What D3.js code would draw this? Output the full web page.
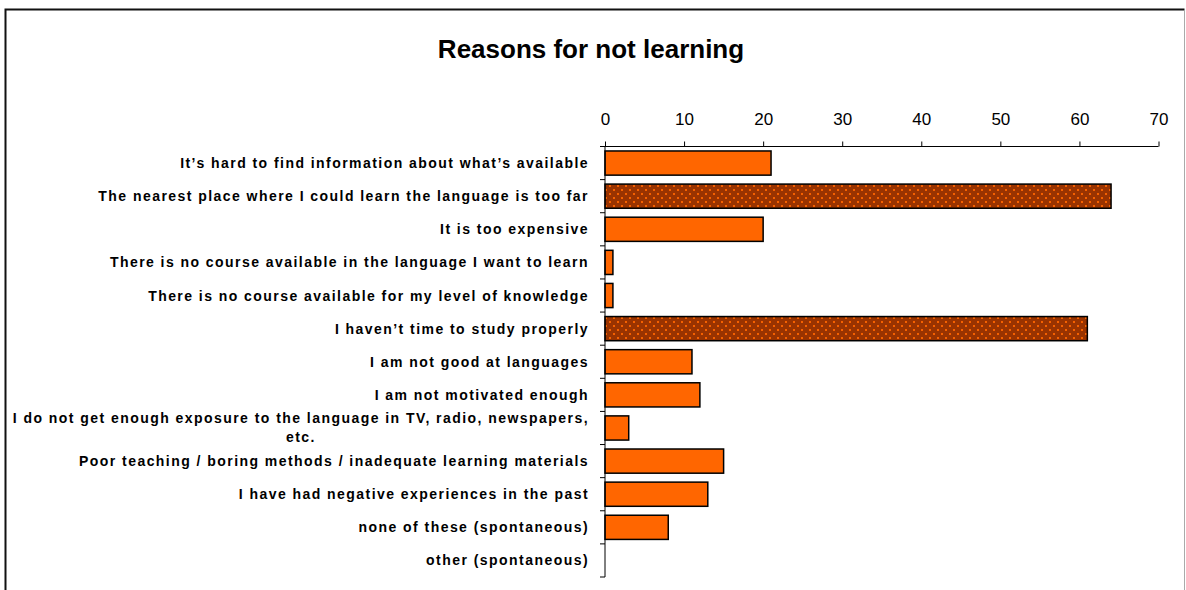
<!DOCTYPE html>
<html>
<head>
<meta charset="utf-8">
<script src="https://cdn.jsdelivr.net/npm/d3@7"></script>
<style>
  html, body { margin: 0; padding: 0; background: #fff; }
  svg { display: block; font-family: "Liberation Sans", Arial, sans-serif; }
</style>
</head>
<body>
<svg id="chart" width="1186" height="590"></svg>
<script>
// Survey answers: reasons for not learning a language (percent)
const categories = [
  "It\u2019s hard to find information about what\u2019s available",
  "The nearest place where I could learn the language is too far",
  "It is too expensive",
  "There is no course available in the language I want to learn",
  "There is no course available for my level of knowledge",
  "I haven\u2019t time to study properly",
  "I am not good at languages",
  "I am not motivated enough",
  "I do not get enough exposure to the language in TV, radio, newspapers, etc.",
  "Poor teaching / boring methods / inadequate learning materials",
  "I have had negative experiences in the past",
  "none of these (spontaneous)",
  "other (spontaneous)"
];
const values = [21, 64, 20, 1, 1, 61, 11, 12, 3, 15, 13, 8, 0];
// The two most frequent answers are drawn with a dotted fill
const highlighted = [false, true, false, false, false, true, false, false, false, false, false, false, false];
const xTicks = [0, 10, 20, 30, 40, 50, 60, 70];
const chartTitle = "Reasons for not learning";

const svg = d3.select("#chart");

// Outer chart frame
svg.append("path")
  .attr("d", "M5.5,600 L5.5,9.5 L1184.5,9.5")
  .attr("fill", "none").attr("stroke", "#111").attr("stroke-width", 2);
svg.append("line")
  .attr("x1", 1184.5).attr("x2", 1184.5).attr("y1", 10).attr("y2", 600)
  .attr("stroke", "#aaa").attr("stroke-width", 1);

// Dotted fill used for highlighted bars
const defs = svg.append("defs");
const pat = defs.append("pattern")
  .attr("id", "dots").attr("patternUnits", "userSpaceOnUse")
  .attr("width", 8).attr("height", 8);
pat.append("rect").attr("width", 8).attr("height", 8).attr("fill", "#993300");
[[1, 1], [5, 5]].forEach(([dx, dy]) => {
  pat.append("rect").attr("x", dx).attr("y", dy).attr("width", 2).attr("height", 2)
    .attr("fill", "#ff6600").attr("opacity", 0.9);
});

const plotLeft = 605, plotRight = 1158.5, plotTop = 146.5, plotBottom = 577;

const x = d3.scaleLinear().domain([0, 70]).range([plotLeft, plotRight]);
const y = d3.scaleBand().domain(categories).range([plotTop, plotBottom]).paddingInner(0.27).paddingOuter(0.135);

// Title
svg.append("text")
  .attr("x", 591).attr("y", 58)
  .attr("text-anchor", "middle")
  .attr("font-size", 26).attr("font-weight", "bold")
  .attr("fill", "#000")
  .text(chartTitle);

// Top value axis
const xAxis = svg.append("g")
  .attr("transform", `translate(0,${plotTop})`)
  .call(d3.axisTop(x).tickValues(xTicks).tickSize(5).tickPadding(17).tickFormat(d3.format("d")));
xAxis.select(".domain").attr("stroke", "#000").attr("d", `M${plotLeft - 5},0H${plotRight}`);
xAxis.selectAll(".tick line").attr("stroke", "#000");
xAxis.selectAll(".tick text")
  .attr("font-size", 17).attr("fill", "#000")
  .attr("font-family", "'Liberation Sans', Arial, sans-serif");

// Bars
svg.append("g").selectAll("rect")
  .data(categories)
  .join("rect")
  .attr("x", x(0))
  .attr("y", d => y(d))
  .attr("width", (d, i) => x(values[i]) - x(0))
  .attr("height", y.bandwidth())
  .attr("fill", (d, i) => highlighted[i] ? "url(#dots)" : "#ff6600")
  .attr("stroke", "#000")
  .attr("stroke-width", 1.5)
  .attr("display", (d, i) => values[i] > 0 ? null : "none");

// Category axis line with ticks between categories
const cat = svg.append("g");
cat.append("line")
  .attr("x1", plotLeft).attr("x2", plotLeft).attr("y1", plotTop).attr("y2", plotBottom)
  .attr("stroke", "#000");
d3.range(categories.length + 1).forEach(i => {
  const yy = plotTop + i * (plotBottom - plotTop) / categories.length;
  cat.append("line")
    .attr("x1", plotLeft - 5).attr("x2", plotLeft).attr("y1", yy).attr("y2", yy)
    .attr("stroke", "#000");
});

// Category labels, wrapped and right-aligned against the axis
const labelRight = 589, maxWidth = 592, lineH = 19;
const labels = svg.append("g")
  .attr("font-size", 14).attr("font-weight", "bold").attr("letter-spacing", 1.45)
  .attr("fill", "#000");
categories.forEach((c, i) => {
  const cy = y(c) + y.bandwidth() / 2;
  const t = labels.append("text").attr("text-anchor", "middle");
  const words = c.split(" ");
  let lines = [], cur = [];
  words.forEach(w => {
    cur.push(w);
    t.text(cur.join(" "));
    if (t.node().getComputedTextLength() > maxWidth && cur.length > 1) {
      cur.pop();
      lines.push(cur.join(" "));
      cur = [w];
    }
  });
  lines.push(cur.join(" "));
  t.text(null);
  const spans = lines.map(ln => t.append("tspan").text(ln));
  const widths = spans.map(s => s.node().getComputedTextLength());
  const w = d3.max(widths);
  const cx = labelRight - w / 2;
  const y0 = cy - (lines.length - 1) * lineH / 2 + 5;
  spans.forEach((s, k) => s.attr("x", cx).attr("y", y0 + k * lineH));
});
</script>
</body>
</html>
